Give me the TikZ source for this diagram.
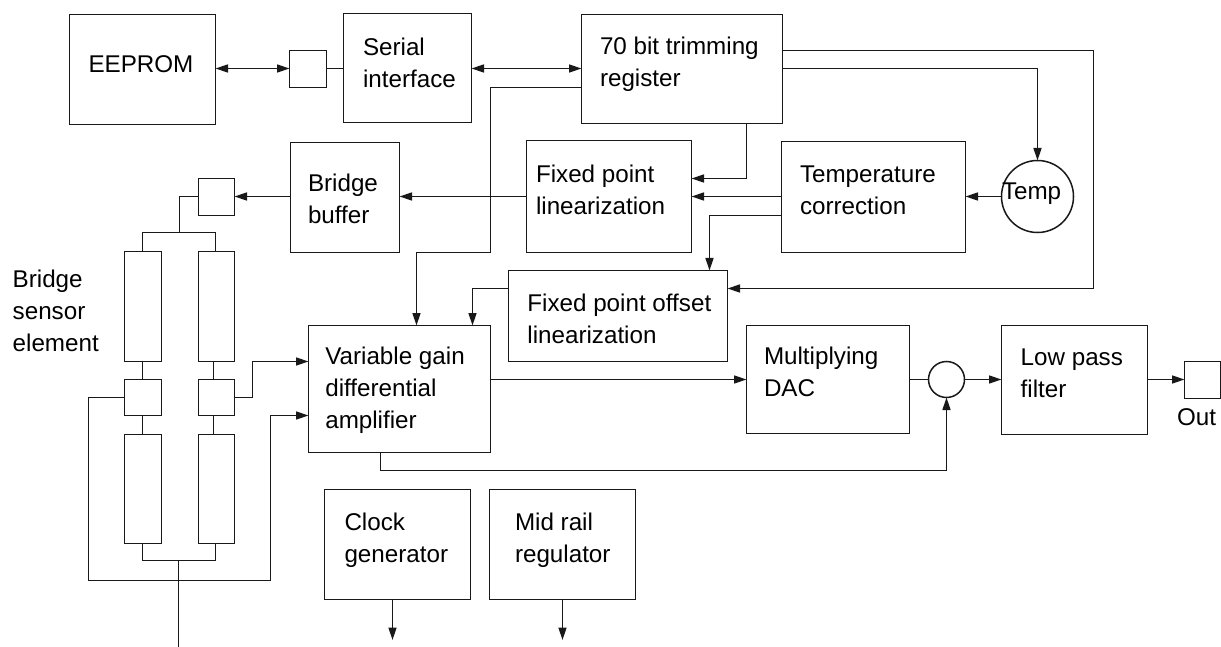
\documentclass[tikz,border=0pt]{standalone}
\usepackage{fontspec}
\setmainfont{Liberation Sans}
\usetikzlibrary{arrows.meta}
\tikzset{
  x=1pt,y=-1pt,
  block/.style={draw=black!90,line width=1.5pt,inner sep=0pt,outer sep=0pt},
  wire/.style={draw=black!90,line width=1.5pt},
  arr/.style={wire,-{Triangle[length=12.5pt,width=8pt]}},
  biarr/.style={wire,{Triangle[length=12.5pt,width=8pt]}-{Triangle[length=12.5pt,width=8pt]}},
  txt/.style={anchor=base west,inner sep=0pt,outer sep=0pt,align=left,font=\fontsize{24.2}{32}\selectfont,text=black},
  ring/.style={circle,draw=black!90,line width=1.5pt,inner sep=0pt,outer sep=0pt}
}
\newcommand{\blk}[5]{%
  \pgfmathsetmacro{\bw}{#4-#2}\pgfmathsetmacro{\bh}{#5-#3}%
  \pgfmathsetmacro{\bx}{(#4+#2)/2}\pgfmathsetmacro{\by}{(#5+#3)/2}%
  \node[block,minimum width=\bw pt,minimum height=\bh pt] (#1) at (\bx,\by) {};}
\begin{document}
\begin{tikzpicture}
\useasboundingbox (0,0) rectangle (1221,647);
% blocks
\blk{eeprom}{69.5}{14.5}{215.5}{124.5}
\blk{pad}{289.5}{50.5}{326.5}{87.5}
\blk{serial}{343.5}{13.5}{471.5}{122.5}
\blk{trim}{581.5}{14.5}{782.5}{123.5}
\blk{fixlin}{526.5}{140.5}{691.5}{252.5}
\blk{tcorr}{781.5}{141.5}{965.5}{252.5}
\blk{buffer}{290.5}{142.5}{399.5}{252.5}
\blk{bpad}{198.5}{178.5}{234.5}{215.5}
\blk{offset}{508.5}{270.5}{727.5}{361.5}
\blk{amp}{308.5}{325.5}{490.5}{452.5}
\blk{dac}{746.5}{325.5}{909.5}{433.5}
\blk{lpf}{1001.5}{325.5}{1147.5}{434.5}
\blk{outpad}{1184.5}{361.5}{1220.5}{398.5}
\blk{clock}{324.5}{489.5}{470.5}{599.5}
\blk{midrail}{489.5}{489.5}{635.5}{599.5}
\blk{ul}{124.5}{251.5}{161.5}{361.5}
\blk{ur}{198.5}{251.5}{234.5}{361.5}
\blk{ml}{124.5}{379.5}{161.5}{415.5}
\blk{mr}{198.5}{379.5}{234.5}{415.5}
\blk{ll}{124.5}{434.5}{161.5}{543.5}
\blk{lr}{198.5}{434.5}{234.5}{543.5}
\node[ring,minimum size=72pt] (temp) at (1037.5,196.5) {};
\node[ring,minimum size=36pt] (sum) at (946.5,379.5) {};
% free ends
\coordinate (clockend) at (392.5,640);
\coordinate (midend) at (562.5,640);
\coordinate (stem) at (178.5,647);
% connectors: top row
\draw[biarr] (eeprom.east |- 0,68.5) -- (pad.west |- 0,68.5);
\draw[wire] (pad.east |- 0,68.5) -- (serial.west |- 0,68.5);
\draw[biarr] (serial.east |- 0,68.5) -- (trim.west |- 0,68.5);
\draw[arr] (trim.east |- 0,68.5) -| (temp.north);
\draw[arr] (trim.east |- 0,50.5) -- (1093.5,50.5) -- (1093.5,288.5) -- (offset.east |- 0,288.5);
\draw[arr] (trim.south -| 746.5,0) -- (746.5,178.5) -- (fixlin.east |- 0,178.5);
\draw[arr] (trim.west |- 0,87.5) -- (490.5,87.5) -- (490.5,252.5) -- (416.5,252.5) -- (amp.north -| 416.5,0);
% middle row
\draw[arr] (temp.west |- 0,196.5) -- (tcorr.east |- 0,196.5);
\draw[arr] (tcorr.west |- 0,196.5) -- (fixlin.east |- 0,196.5);
\draw[arr] (tcorr.west |- 0,215.5) -- (709.5,215.5) -- (offset.north -| 709.5,0);
\draw[arr] (fixlin.west |- 0,196.5) -- (buffer.east |- 0,196.5);
\draw[arr] (buffer.west |- 0,196.5) -- (bpad.east |- 0,196.5);
\draw[arr] (offset.west |- 0,288.5) -- (472.5,288.5) -- (amp.north -| 472.5,0);
% bridge
\draw[wire] (bpad.west |- 0,196.5) -- (179.5,196.5) -- (179.5,232.5);
\draw[wire] (ul.north -| 142.5,0) -- (142.5,232.5) -- (215.5,232.5) -- (ur.north -| 215.5,0);
\draw[wire] (ul.south -| 142.5,0) -- (ml.north -| 142.5,0);
\draw[wire] (ur.south -| 213.5,0) -- (mr.north -| 213.5,0);
\draw[wire] (ml.south -| 142.5,0) -- (ll.north -| 142.5,0);
\draw[wire] (mr.south -| 213.5,0) -- (lr.north -| 213.5,0);
\draw[wire] (ll.south -| 142.5,0) -- (142.5,560.5) -- (215.5,560.5) -- (lr.south -| 215.5,0);
\draw[wire] (178.5,560.5) -- (stem);
\draw[arr] (ml.west |- 0,397.5) -- (88.5,397.5) -- (88.5,580.5) -- (270.5,580.5) -- (270.5,415.5) -- (amp.west |- 0,415.5);
\draw[arr] (mr.east |- 0,397.5) -- (252.5,397.5) -- (252.5,361.5) -- (amp.west |- 0,361.5);
% signal path
\draw[arr] (amp.east |- 0,379.5) -- (dac.west |- 0,379.5);
\draw[wire] (dac.east |- 0,379.5) -- (sum.west);
\draw[arr] (sum.east) -- (lpf.west |- 0,379.5);
\draw[arr] (lpf.east |- 0,379.5) -- (outpad.west |- 0,379.5);
\draw[arr] (amp.south -| 380.5,0) -- (380.5,470.5) -- (946.5,470.5) -- (sum.south);
\draw[arr] (clock.south -| clockend) -- (clockend);
\draw[arr] (midrail.south -| midend) -- (midend);
% texts
\node[txt] (t1) at (88.5,72.7) {EEPROM};
\node[txt] (t2) at (363,87.3) {Serial\\interface};
\node[txt] (t3) at (600,86.7) {70 bit trimming\\register};
\node[txt] (t4) at (536,214.5) {Fixed point\\linearization};
\node[txt] (t5) at (800,214.7) {Temperature\\correction};
\node[txt] (t6) at (1002,200) {Temp};
\node[txt] (t7) at (527.4,343) {Fixed point offset\\linearization};
\node[txt] (t8) at (764,396.7) {Multiplying\\DAC};
\node[txt] (t9) at (1020.7,397.7) {Low pass\\filter};
\node[txt] (t10) at (1177,425.7) {Out};
\node[txt] (t11) at (308,223.3) {Bridge\\buffer};
\node[txt] (t12) at (12.7,351) {Bridge\\sensor\\element};
\node[txt] (t13) at (325.3,428) {Variable gain\\differential\\amplifier};
\node[txt] (t14) at (344.5,562) {Clock\\generator};
\node[txt] (t15) at (515,562) {Mid rail\\regulator};
\end{tikzpicture}
\end{document}
